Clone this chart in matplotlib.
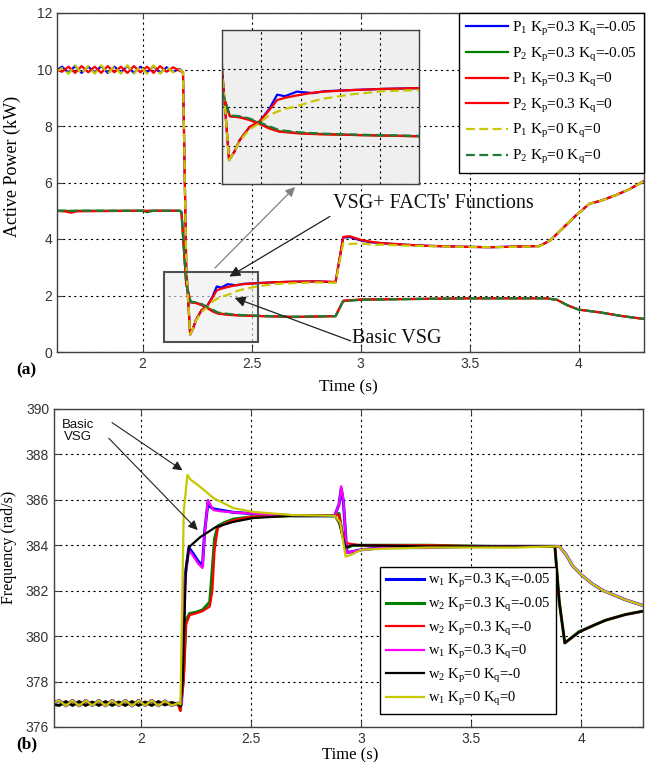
import matplotlib
matplotlib.use("Agg")
import matplotlib.pyplot as plt
import matplotlib.patches as mpatches
import numpy as np

plt.rcParams['font.family'] = ['Liberation Sans', 'DejaVu Sans']
plt.rcParams['mathtext.fontset'] = 'custom'
plt.rcParams['mathtext.rm'] = 'Liberation Serif'
plt.rcParams['mathtext.it'] = 'Liberation Serif:italic'

# ---------------- data : panel (a) active power (kW) ----------------
t_p1 = [1.60, 1.63, 1.66, 1.69, 1.72, 1.75, 1.78, 1.81, 1.84, 1.87, 1.90, 1.93,
        1.96, 1.99, 2.02, 2.05, 2.08, 2.11, 2.14, 2.17,
        2.185, 2.20, 2.218, 2.232, 2.245, 2.27, 2.295, 2.32, 2.34, 2.36, 2.39,
        2.43, 2.46, 2.53, 2.61, 2.70, 2.80, 2.885, 2.92, 2.95, 3.00, 3.05, 3.10,
        3.20, 3.30, 3.40, 3.50, 3.60, 3.70, 3.82, 3.87, 3.93, 3.99, 4.05, 4.10,
        4.17, 4.23, 4.30]
p1_kp03_kqm005 = [9.95, 10.10, 9.88, 10.12, 9.88, 10.10, 9.90, 10.12, 9.88, 10.10,
                  9.90, 10.12, 9.88, 10.10, 9.90, 10.12, 9.88, 10.08, 9.92, 10.02,
                  9.90, 3.00, 0.62, 0.85, 1.14, 1.48, 1.62, 1.95, 2.32, 2.28, 2.40,
                  2.36, 2.41, 2.44, 2.47, 2.49, 2.50, 2.47, 4.05, 4.07, 3.95, 3.88, 3.85,
                  3.80, 3.76, 3.74, 3.72, 3.71, 3.73, 3.75, 3.95, 4.40, 4.85, 5.25, 5.35,
                  5.55, 5.75, 6.05]
p1_kp03_kq0 = [10.00, 9.92, 10.10, 9.88, 10.12, 9.90, 10.10, 9.88, 10.12, 9.90,
               10.10, 9.88, 10.12, 9.90, 10.10, 9.88, 10.12, 9.92, 10.08, 9.95,
               9.90, 3.00, 0.62, 0.85, 1.14, 1.48, 1.62, 1.92, 2.18, 2.24, 2.30,
               2.37, 2.40, 2.44, 2.47, 2.49, 2.50, 2.48, 4.07, 4.10, 3.97, 3.90, 3.85,
               3.80, 3.76, 3.74, 3.72, 3.71, 3.73, 3.75, 3.95, 4.40, 4.85, 5.25, 5.35,
               5.55, 5.75, 6.05]
p1_kp0_kq0 = [9.90, 10.05, 9.85, 10.15, 9.85, 10.12, 9.85, 10.15, 9.85, 10.12,
              9.85, 10.15, 9.85, 10.12, 9.85, 10.15, 9.85, 10.10, 9.90, 10.00,
              9.90, 3.00, 0.62, 0.85, 1.12, 1.42, 1.58, 1.79, 1.88, 1.95, 2.02,
              2.15, 2.22, 2.33, 2.41, 2.44, 2.46, 2.45, 3.85, 3.82, 3.85, 3.80, 3.80,
              3.77, 3.75, 3.73, 3.72, 3.71, 3.72, 3.74, 3.95, 4.40, 4.85, 5.25, 5.35,
              5.55, 5.75, 6.05]

t_p2 = [1.60, 1.65, 1.67, 1.70, 2.00, 2.02, 2.05, 2.17, 2.178, 2.20, 2.22, 2.245,
        2.27, 2.295, 2.32, 2.345, 2.40, 2.45, 2.55, 2.70, 2.885, 2.92, 3.00, 3.50,
        3.85, 3.90, 3.95, 4.00, 4.10, 4.20, 4.30]
p2_kp03_kqm005 = [5.00, 5.00, 4.97, 5.00, 5.00, 4.95, 5.00, 5.00, 4.95, 2.40, 1.76,
                  1.74, 1.68, 1.58, 1.47, 1.37, 1.32, 1.30, 1.27, 1.24, 1.27, 1.80,
                  1.85, 1.90, 1.90, 1.85, 1.65, 1.50, 1.40, 1.27, 1.17]
p2_kp03_kq0 = [5.00, 4.97, 4.93, 4.98, 5.00, 5.00, 5.00, 5.00, 4.95, 2.40, 1.76,
               1.73, 1.66, 1.56, 1.44, 1.36, 1.31, 1.29, 1.27, 1.24, 1.27, 1.82,
               1.86, 1.90, 1.90, 1.85, 1.65, 1.50, 1.40, 1.27, 1.17]
p2_kp0_kq0 = [5.00, 5.00, 5.00, 5.00, 5.00, 5.00, 5.00, 5.00, 4.95, 2.40, 1.78,
              1.76, 1.70, 1.60, 1.50, 1.40, 1.34, 1.31, 1.28, 1.25, 1.27, 1.80,
              1.85, 1.90, 1.90, 1.85, 1.65, 1.50, 1.40, 1.27, 1.17]

labels_a = ['P$_1$ K$_\\mathrm{p}$=0.3 K$_\\mathrm{q}$=-0.05',
            'P$_2$ K$_\\mathrm{p}$=0.3 K$_\\mathrm{q}$=-0.05',
            'P$_1$ K$_\\mathrm{p}$=0.3 K$_\\mathrm{q}$=0',
            'P$_2$ K$_\\mathrm{p}$=0.3 K$_\\mathrm{q}$=0',
            'P$_1$ K$_\\mathrm{p}$=0 K$_\\mathrm{q}$=0',
            'P$_2$ K$_\\mathrm{p}$=0 K$_\\mathrm{q}$=0']

# ---------------- data : panel (b) frequency (rad/s) ----------------
t_pre_b = [1.60, 1.63, 1.66, 1.69, 1.72, 1.75, 1.78, 1.81, 1.84, 1.87, 1.90, 1.93,
           1.96, 1.99, 2.02, 2.05, 2.08, 2.11, 2.14, 2.17]
w1_pre = [377.05, 377.17, 376.93, 377.17, 376.93, 377.17, 376.95, 377.17, 376.93, 377.17,
          376.95, 377.17, 376.93, 377.17, 376.95, 377.17, 376.93, 377.15, 376.95, 377.05]
w2_pre = [377.0, 376.95, 377.12, 376.95, 377.12, 376.95, 377.1, 376.95, 377.12, 376.95,
          377.1, 376.95, 377.12, 376.95, 377.1, 376.95, 377.12, 376.97, 377.08, 377.0]

t_w1_kp03 = [2.185, 2.20, 2.218, 2.24, 2.26, 2.28, 2.29, 2.305, 2.315, 2.33, 2.36, 2.42,
             2.50, 2.60, 2.70, 2.80, 2.88, 2.90, 2.91, 2.92, 2.935, 2.95, 3.00, 3.10,
             3.30, 3.50, 3.70, 3.88, 3.90, 3.93, 3.96, 4.00, 4.05, 4.10, 4.15, 4.20, 4.28]
w1_kp03_kqm005 = [377.0, 382.5, 383.9, 383.6, 383.3, 383.1, 384.6, 385.9, 385.7, 385.6,
                  385.55, 385.45, 385.4, 385.35, 385.3, 385.3, 385.3, 385.8, 386.5, 385.9,
                  383.7, 383.7, 383.8, 383.9, 383.9, 383.95, 383.95, 383.95, 383.95, 383.6,
                  383.1, 382.7, 382.3, 382.0, 381.8, 381.6, 381.35]
w1_kp03_kq0 = [377.0, 382.5, 383.8, 383.5, 383.2, 383.0, 384.5, 386.0, 385.8, 385.55,
               385.5, 385.45, 385.4, 385.35, 385.3, 385.3, 385.3, 385.8, 386.6, 386.0,
               383.66, 383.7, 383.8, 383.9, 383.9, 383.95, 383.95, 383.95, 383.95, 383.6,
               383.1, 382.7, 382.3, 382.0, 381.8, 381.6, 381.35]

t_w1_kp0 = [2.18, 2.195, 2.212, 2.225, 2.27, 2.33, 2.42, 2.51, 2.69, 2.88, 2.905,
            2.93, 2.96, 3.00, 3.10, 3.30, 3.50, 3.70, 3.88, 3.90, 3.93, 3.96, 4.00,
            4.05, 4.10, 4.15, 4.20, 4.28]
w1_kp0_kq0 = [377.0, 385.5, 387.1, 386.9, 386.57, 386.08, 385.64, 385.47, 385.33, 385.3,
              385.0, 383.5, 383.6, 383.8, 383.85, 383.9, 383.9, 383.9, 383.95, 383.95,
              383.6, 383.1, 382.7, 382.3, 382.0, 381.8, 381.6, 381.35]

t_w2_kp03 = [2.18, 2.195, 2.205, 2.222, 2.25, 2.28, 2.313, 2.325, 2.335, 2.35, 2.38,
             2.42, 2.50, 2.70, 2.88, 2.90, 2.915, 2.93, 2.96, 3.00, 3.30, 3.60, 3.88,
             3.90, 3.925, 3.99, 4.05, 4.11, 4.20, 4.28]
w2_kp03_kqm005 = [376.75, 378.5, 380.7, 381.0, 381.05, 381.15, 381.5, 383.0, 384.3, 384.85,
                  385.0, 385.15, 385.25, 385.3, 385.3, 385.4, 384.5, 383.85, 384.0, 384.0,
                  384.0, 383.95, 383.95, 381.5, 379.7, 380.2, 380.45, 380.7, 380.95, 381.1]
w2_kp03_kq0 = [376.7, 378.0, 380.5, 380.93, 381.0, 381.1, 381.3, 382.0, 383.8, 384.76,
               384.95, 385.1, 385.25, 385.3, 385.3, 385.35, 384.6, 384.1, 384.05, 384.0,
               384.0, 383.95, 383.95, 381.5, 379.7, 380.18, 380.45, 380.7, 380.95, 381.1]

t_w2_kp0 = [2.18, 2.19, 2.205, 2.22, 2.27, 2.34, 2.42, 2.51, 2.68, 2.88, 2.90, 2.93,
            2.96, 3.00, 3.30, 3.60, 3.88, 3.90, 3.925, 3.99, 4.05, 4.11, 4.20, 4.28]
w2_kp0_kq0 = [376.9, 378.0, 383.0, 383.93, 384.36, 384.8, 385.03, 385.2, 385.3, 385.3,
              385.0, 383.9, 384.0, 384.0, 383.95, 383.95, 383.95, 381.5, 379.7, 380.18,
              380.45, 380.7, 380.95, 381.1]

labels_b = ['w$_1$ K$_\\mathrm{p}$=0.3 K$_\\mathrm{q}$=-0.05',
            'w$_2$ K$_\\mathrm{p}$=0.3 K$_\\mathrm{q}$=-0.05',
            'w$_2$ K$_\\mathrm{p}$=0.3 K$_\\mathrm{q}$=-0',
            'w$_1$ K$_\\mathrm{p}$=0.3 K$_\\mathrm{q}$=0',
            'w$_2$ K$_\\mathrm{p}$=0 K$_\\mathrm{q}$=-0',
            'w$_1$ K$_\\mathrm{p}$=0 K$_\\mathrm{q}$=0']

xticks = [2, 2.5, 3, 3.5, 4]
xtick_labels = ['2', '2.5', '3', '3.5', '4']
yticks_a = [0, 2, 4, 6, 8, 10, 12]
yticks_b = [376, 378, 380, 382, 384, 386, 388, 390]

# ---------------- styling ----------------
C_BLUE = '#0000ff'
C_GREEN = '#008000'
C_RED = '#ff0000'
C_MAG = '#ff00ff'
C_BLACK = '#000000'
C_YEL = '#c8c800'
C_DKGREEN = '#1f7a3a'
SERIF = ['Liberation Serif', 'DejaVu Serif']
GRID_KW = dict(color='black', linestyle=(0, (2, 3)), linewidth=0.8)


def style_axes(ax):
    for s in ax.spines.values():
        s.set_color('#404040')
        s.set_linewidth(1.0)
    ax.tick_params(direction='in', length=4, width=0.8, colors='#404040',
                   labelcolor='#333333', labelsize=10, top=True, right=True)
    ax.grid(True, **GRID_KW)
    ax.set_axisbelow(True)


fig = plt.figure(figsize=(6.46, 7.62), dpi=100)

# ================= panel (a) =================
axa = fig.add_axes([57 / 646, 1 - 352 / 762, 587 / 646, 339 / 762])
style_axes(axa)
axa.plot(t_p1, p1_kp03_kqm005, color=C_BLUE, lw=1.6, label=labels_a[0])
axa.plot(t_p2, p2_kp03_kqm005, color=C_GREEN, lw=1.6, label=labels_a[1])
axa.plot(t_p1, p1_kp03_kq0, color=C_RED, lw=1.6, label=labels_a[2])
axa.plot(t_p2, p2_kp03_kq0, color=C_RED, lw=1.6, label=labels_a[3])
axa.plot(t_p1, p1_kp0_kq0, color=C_YEL, lw=1.6, dashes=(4, 2), label=labels_a[4])
axa.plot(t_p2, p2_kp0_kq0, color=C_DKGREEN, lw=1.6, dashes=(4, 2), label=labels_a[5])
axa.set_xlim(1.607, 4.3)
axa.set_ylim(0, 12)
axa.set_xticks(xticks)
axa.set_xticklabels(xtick_labels)
axa.set_yticks(yticks_a)
axa.set_xlabel('Time (s)', family=SERIF, fontsize=12.5)
axa.xaxis.set_label_coords(0.496, -0.08)
axa.set_ylabel('Active Power (kW)', family=SERIF, fontsize=13)
axa.yaxis.set_label_coords(-0.062, 0.546)

rect = mpatches.Rectangle((2.1, 0.35), 0.43, 2.48, facecolor='#eeeeee', alpha=0.6,
                          edgecolor='none', zorder=1.5)
axa.add_patch(rect)
rect_edge = mpatches.Rectangle((2.1, 0.35), 0.43, 2.48, facecolor='none',
                               edgecolor='#505050', lw=1.5, zorder=5)
axa.add_patch(rect_edge)

leg_a = axa.legend(loc='upper right', bbox_to_anchor=(1.0, 1.0), borderaxespad=0.0,
                   prop={'family': SERIF, 'size': 11}, handlelength=2.7,
                   handletextpad=0.3, labelspacing=0.5, borderpad=0.45,
                   fancybox=False, framealpha=1.0, edgecolor='black')
leg_a.get_frame().set_linewidth(1.0)
leg_a.set_zorder(10)

# arrows / texts
axa.annotate('', xy=(2.708, 5.91), xytext=(2.322, 2.9),
             arrowprops=dict(arrowstyle='-|>', color='#808080', lw=0.9,
                             mutation_scale=14), zorder=6)
axa.annotate('', xy=(2.387, 2.62), xytext=(2.87, 4.85),
             arrowprops=dict(arrowstyle='-|>', color='#202020', lw=0.9,
                             mutation_scale=16), zorder=6)
axa.annotate('', xy=(2.41, 1.95), xytext=(2.966, 0.36),
             arrowprops=dict(arrowstyle='-|>', color='#202020', lw=0.9,
                             mutation_scale=16), zorder=6)
axa.text(2.873, 5.27, "VSG+ FACTs' Functions", family=SERIF, fontsize=14.5,
         va='center', ha='left', color='#111111', zorder=7)
axa.text(2.962, 0.47, 'Basic VSG', family=SERIF, fontsize=14.5,
         va='center', ha='left', color='#111111', zorder=7)

# inset
axi = fig.add_axes([222 / 646, 1 - 184 / 762, 197 / 646, 154 / 762])
axi.set_facecolor('#efefef')
for s in axi.spines.values():
    s.set_color('#404040')
    s.set_linewidth(1.0)
axi.grid(True, **GRID_KW)
axi.set_axisbelow(True)
axi.plot(t_p1, p1_kp03_kqm005, color=C_BLUE, lw=1.6)
axi.plot(t_p2, p2_kp03_kqm005, color=C_GREEN, lw=1.6)
axi.plot(t_p1, p1_kp03_kq0, color=C_RED, lw=1.6)
axi.plot(t_p2, p2_kp03_kq0, color=C_RED, lw=1.6)
axi.plot(t_p1, p1_kp0_kq0, color=C_YEL, lw=1.6, dashes=(4, 2))
axi.plot(t_p2, p2_kp0_kq0, color=C_DKGREEN, lw=1.6, dashes=(4, 2))
axi.set_xlim(2.2, 2.7)
axi.set_ylim(0, 4)
axi.set_xticks([2.2, 2.3, 2.4, 2.5, 2.6, 2.7])
axi.set_yticks([0, 1, 2, 3, 4])
axi.tick_params(labelbottom=False, labelleft=False, length=0)

fig.text(16 / 646, 1 - 370 / 762, '(a)', family=SERIF, fontweight='bold',
         fontsize=12.5, va='center', ha='left')

# ================= panel (b) =================
axb = fig.add_axes([54 / 646, 1 - 727 / 762, 589 / 646, 318 / 762])
style_axes(axb)
axb.plot(t_pre_b + t_w1_kp03, w1_pre + w1_kp03_kqm005, color=C_BLUE, lw=2.2,
         label=labels_b[0])
axb.plot(t_pre_b + t_w2_kp03, w2_pre + w2_kp03_kqm005, color=C_GREEN, lw=2.2,
         label=labels_b[1])
axb.plot(t_pre_b + t_w2_kp03, w2_pre + w2_kp03_kq0, color=C_RED, lw=1.6,
         label=labels_b[2])
axb.plot(t_pre_b + t_w1_kp03, w1_pre + w1_kp03_kq0, color=C_MAG, lw=1.6,
         label=labels_b[3])
axb.plot(t_pre_b + t_w2_kp0, w2_pre + w2_kp0_kq0, color=C_BLACK, lw=1.6,
         label=labels_b[4])
axb.plot(t_pre_b + t_w1_kp0, w1_pre + w1_kp0_kq0, color=C_YEL, lw=1.6,
         label=labels_b[5])
axb.set_xlim(1.606, 4.28)
axb.set_ylim(376, 390)
axb.set_xticks(xticks)
axb.set_xticklabels(xtick_labels)
axb.set_yticks(yticks_b)
axb.set_xlabel('Time (s)', family=SERIF, fontsize=12)
axb.xaxis.set_label_coords(0.503, -0.064)
axb.set_ylabel('Frequency (rad/s)', family=SERIF, fontsize=11.5)
axb.yaxis.set_label_coords(-0.063, 0.566)

leg_b = axb.legend(loc='lower left', bbox_to_anchor=(0.5535, 0.041), borderaxespad=0.0,
                   prop={'family': SERIF, 'size': 10.5}, handlelength=2.6,
                   handletextpad=0.3, labelspacing=0.38, borderpad=0.4,
                   fancybox=False, framealpha=1.0, edgecolor='black')
leg_b.get_frame().set_linewidth(1.0)

axb.text(1.714, 389.03, 'Basic\nVSG', fontsize=9.5, ha='center', va='center',
         color='#111111', linespacing=1.0)
axb.annotate('', xy=(2.2, 387.23), xytext=(1.859, 389.47),
             arrowprops=dict(arrowstyle='-|>', color='#202020', lw=0.8,
                             mutation_scale=14))
axb.annotate('', xy=(2.267, 384.58), xytext=(1.846, 388.8),
             arrowprops=dict(arrowstyle='-|>', color='#202020', lw=0.8,
                             mutation_scale=14))

fig.text(16 / 646, 1 - 744 / 762, '(b)', family=SERIF, fontweight='bold',
         fontsize=12.5, va='center', ha='left')

fig.savefig('out.png', dpi=100)
